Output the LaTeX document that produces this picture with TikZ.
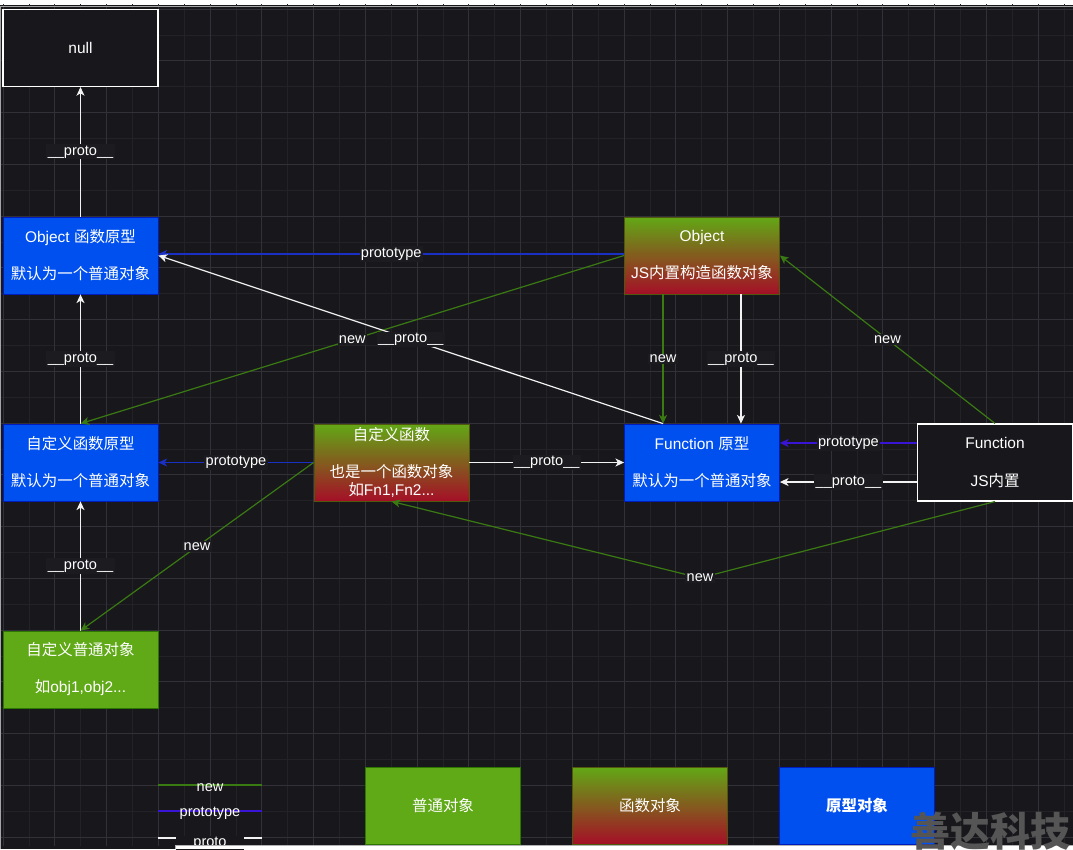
\documentclass[tikz,border=0pt]{standalone}
\usepackage{fontspec}
\setmainfont{Liberation Sans}
\newfontfamily\cjk{Noto Sans CJK SC}
\usetikzlibrary{arrows.meta,calc}
\newcommand\zhtxt[1]{{\cjk #1}}
\definecolor{canvas}{HTML}{18171C}
\definecolor{lblbg}{HTML}{1C1B20}
\definecolor{gridminor}{HTML}{232227}
\definecolor{gridmajor}{HTML}{323137}
\definecolor{pblue}{HTML}{0050EF}
\definecolor{pblueb}{HTML}{001DBC}
\definecolor{ogreen}{HTML}{60A917}
\definecolor{ogreenb}{HTML}{2D7600}
\definecolor{gtop}{HTML}{62A816}
\definecolor{gbot}{HTML}{A50F27}
\definecolor{edgewhite}{HTML}{F2F2F2}
\definecolor{edgegreen}{HTML}{3A7A12}
\definecolor{edgeblue}{HTML}{1A30C4}
\definecolor{edgepurple}{HTML}{3A14D6}
\definecolor{wmgray}{HTML}{555555}
\begin{document}
\begin{tikzpicture}[x=0.75pt,y=-0.75pt,
  box/.style={minimum width=116.25pt,minimum height=57.75pt,inner sep=0pt,align=center,text=white,
    font=\fontsize{11.6pt}{13.9pt}\selectfont},
  protobox/.style={box,fill=pblue,draw=pblueb,line width=0.6pt},
  objbox/.style={box,fill=ogreen,draw=ogreenb,line width=0.6pt},
  funcbox/.style={box,top color=gtop,bottom color=gbot,draw=ogreenb!70!gbot,line width=0.6pt},
  darkbox/.style={box,fill=canvas,draw=white,line width=0.8pt},
  lbl/.style={fill=lblbg,text=white,inner sep=1pt,font=\fontsize{10.9pt}{13pt}\selectfont},
  tip/.style={-{Stealth[length=6.5pt,width=6pt,inset=1.8pt]}},
  wline/.style={draw=edgewhite,line width=0.9pt,tip},
  gline/.style={draw=edgegreen,line width=0.9pt,tip},
  bline/.style={draw=edgeblue,line width=1pt,tip},
  pline/.style={draw=edgepurple,line width=1pt,tip},
]
\useasboundingbox (0,0) rectangle (1073,849);
\fill[white] (0,0) rectangle (1073,849);
\fill[canvas] (0,5) rectangle (1073,845);
\fill[canvas] (0,845) rectangle (175,849);
% grid
\begin{scope}
\clip (0,5) rectangle (1073,845);
\foreach \i in {-1,...,42} \draw[gridminor,line width=0.5pt] ({3+\i*25.875},0) -- ++(0,860);
\foreach \j in {-1,...,33} \draw[gridminor,line width=0.5pt] (0,{9+\j*25.875}) -- ++(1080,0);
\foreach \i in {-1,...,21} \draw[gridmajor,line width=0.6pt] ({3+\i*51.75},0) -- ++(0,860);
\foreach \j in {-1,...,17} \draw[gridmajor,line width=0.6pt] (0,{9+\j*51.75}) -- ++(1080,0);
\end{scope}
\draw[gray!70,line width=0.6pt] (0.5,849) -- (0.5,6) -- (1073,6);

% nodes
\node[darkbox] (null) at (80.5,48) {null};
\node[protobox] (op) at (80.5,255.5) {Object \zhtxt{函数原型}\\[13.9pt]\zhtxt{默认为一个普通对象}};
\node[funcbox] (obj) at (702,255.5) {Object\\[13.9pt]JS\zhtxt{内置构造函数对象}};
\node[protobox] (cfp) at (80.5,462.5) {\zhtxt{自定义函数原型}\\[13.9pt]\zhtxt{默认为一个普通对象}};
\node[funcbox] (cf) at (391.5,462.5) {\zhtxt{自定义函数}\\[13.9pt]\zhtxt{也是一个函数对象}\\\zhtxt{如}Fn1,Fn2...};
\node[protobox] (fp) at (702,462.5) {Function \zhtxt{原型}\\[13.9pt]\zhtxt{默认为一个普通对象}};
\node[darkbox] (F) at (995,462.5) {Function\\[13.9pt]JS\zhtxt{内置}};
\node[objbox] (cobj) at (80.5,669.5) {\zhtxt{自定义普通对象}\\[13.9pt]\zhtxt{如}obj1,obj2...};
\node[objbox] (leg1) at (443,805.5) {\zhtxt{普通对象}};
\node[funcbox] (leg2) at (650,805.5) {\zhtxt{函数对象}};
\node[protobox] (leg3) at (857,805.5) {{\cjk\bfseries 原型对象}};

% helper coordinates
\coordinate (objA) at ($(obj.south west)!0.25!(obj.south east)$);
\coordinate (objB) at ($(obj.south west)!0.75!(obj.south east)$);
\coordinate (fpA) at ($(fp.north west)!0.25!(fp.north east)$);
\coordinate (fpB) at ($(fp.north west)!0.75!(fp.north east)$);
\coordinate (FA) at ($(F.north west)!0.25!(F.south west)$);
\coordinate (FB) at ($(F.north west)!0.75!(F.south west)$);
\coordinate (objW) at ($(obj.west)+(0,-1.5)$);
\coordinate (bend) at (700,578);

% edges
\draw[wline] (op.north) -- node[lbl]{\_\_proto\_\_} (null.south);
\draw[wline] (cfp.north) -- node[lbl]{\_\_proto\_\_} (op.south);
\draw[wline] (cobj.north) -- node[lbl]{\_\_proto\_\_} (cfp.south);
\draw[bline] (objW) -- node[lbl]{prototype} (objW -| op.east);
\draw[gline] (obj.west) -- node[lbl]{new} (cfp.north);
\draw[wline] (fpA) -- node[lbl]{\_\_proto\_\_} (op.east);
\draw[gline] (objA) -- node[lbl]{new} (fpA);
\draw[wline] (objB) -- node[lbl]{\_\_proto\_\_} (fpB);
\draw[gline] (F.north) -- node[lbl]{new} (obj.east);
\draw[pline] (FA) -- node[lbl]{prototype} (FA -| fp.east);
\draw[wline] (FB) -- node[lbl]{\_\_proto\_\_} (FB -| fp.east);
\draw[gline] (F.south) -- (bend) -- (cf.south);
\node[lbl] at (bend) {new};
\draw[bline] (cf.west) -- node[lbl]{prototype} (cfp.east);
\draw[gline] (cf.west) -- node[lbl]{new} (cobj.north);
\draw[wline] (cf.east) -- node[lbl]{\_\_proto\_\_} (fp.west);

% legend lines
\coordinate (l1a) at (158,785); \coordinate (l1b) at (262,785);
\coordinate (l2a) at (158,811); \coordinate (l2b) at (262,811);
\coordinate (l3a) at (158,838); \coordinate (l3b) at (262,838);
\draw[edgegreen,line width=0.9pt] (l1a) -- node[lbl,fill=none,yshift=-2pt]{new} (l1b);
\draw[edgepurple,line width=0.9pt] (l2a) -- node[lbl,fill=none,yshift=-2pt]{prototype} (l2b);
\draw[edgewhite,line width=0.9pt] (l3a) -- node[lbl,fill=canvas,yshift=-4pt]{\_\_proto\_\_} (l3b);

% bottom strip
\fill[white] (175,845) rectangle (1073,849);
\draw[gray!60,line width=0.6pt] (175,849) -- (175,845) -- (1073,845);

% watermark
\node[inner sep=0pt,text=wmgray,font=\cjk\bfseries\fontsize{30pt}{30pt}\selectfont] (wm) at (990,831) {善达科技};
\end{tikzpicture}
\end{document}
